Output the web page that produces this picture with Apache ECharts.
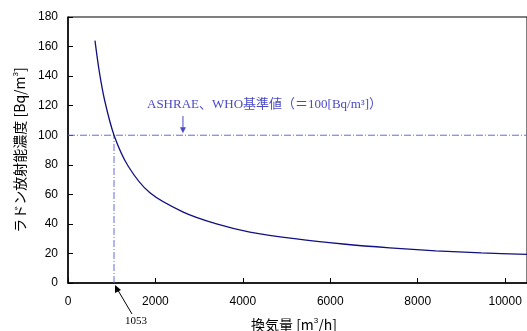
<!DOCTYPE html>
<html><head><meta charset="utf-8">
<script src="https://cdn.jsdelivr.net/npm/echarts@6/dist/echarts.min.js"></script>
<style>html,body{margin:0;padding:0;background:#fff}#c{width:527px;height:331px}</style>
</head><body><div id="c"></div>
<script>
const ventilation = [617, 716, 839, 1053, 1378, 1874, 2636, 3398, 4160, 5227, 6293, 7360, 8411, 9456, 10500];
const radon = [164, 143, 123.5, 100, 79, 61, 48, 40, 34.5, 29.8, 26.4, 23.8, 21.8, 20.4, 19.4];
const xTicks = [0, 2000, 4000, 6000, 8000, 10000];
const standardValue = 100;
const crossX = 1053;
const stdLabel = 'ASHRAE、WHO基準値（＝100[Bq/m³]）';

const chart = echarts.init(document.getElementById('c'));
const curve = ventilation.map((v, i) => [v, radon[i]]);
chart.setOption({
  animation: false,
  grid: { left: 68, top: 17, bottom: 48, right: 0, show: true, borderColor: '#000', borderWidth: 1 },
  xAxis: {
    type: 'value', min: 0, max: 10500, interval: 2000,
    axisLine: { lineStyle: { color: '#000', width: 1.5 } },
    axisTick: { inside: true, length: 5, lineStyle: { color: '#000' } },
    splitLine: { show: false },
    axisLabel: { color: '#000', fontFamily: 'Liberation Sans', fontSize: 12, margin: 13, showMaxLabel: false,
      formatter: v => xTicks.includes(v) ? String(v) : '' }
  },
  yAxis: {
    type: 'value', min: 0, max: 180, interval: 20,
    axisLine: { show: true, lineStyle: { color: '#000', width: 1.5 } },
    axisTick: { show: true, inside: true, length: 5, lineStyle: { color: '#000' } },
    splitLine: { show: false },
    axisLabel: { color: '#000', fontFamily: 'Liberation Sans', fontSize: 12, margin: 10 },
    name: '{a|ラドン放射能濃度 [Bq/m}{s|3}{a|]}',
    nameLocation: 'middle', nameRotate: 90, nameGap: 34,
    nameTextStyle: { rich: {
      a: { fontFamily: 'Noto Sans CJK JP', fontSize: 14, color: '#000' },
      s: { fontFamily: 'Liberation Sans', fontSize: 8, color: '#000', verticalAlign: 'top', padding: [0,0,8,0] }
    } }
  },
  series: [
    { type: 'line', data: [[0, standardValue], [10500, standardValue]], symbol: 'none', silent: true,
      lineStyle: { color: '#6a6ad8', width: 1, type: [7, 2, 1, 2] } },
    { type: 'line', data: [[crossX, 0], [crossX, standardValue]], symbol: 'none', silent: true,
      lineStyle: { color: '#6a6ad8', width: 1, type: [7, 2, 1, 2] } },
    { type: 'line', data: curve, symbol: 'none', smooth: 0.3,
      lineStyle: { color: '#101080', width: 1.3 } }
  ]
});

const p0 = chart.convertToPixel({ gridIndex: 0 }, [crossX, 0]);
const pStd = chart.convertToPixel({ gridIndex: 0 }, [2630, standardValue]);
chart.setOption({
  graphic: [
    { type: 'text', x: 251, y: 317, style: { text: '{a|換気量 [m}{s|3}{a|/h]}', rich: {
        a: { fontFamily: 'Noto Sans CJK JP', fontSize: 14, fill: '#000' },
        s: { fontFamily: 'Liberation Sans', fontSize: 8, fill: '#000', verticalAlign: 'top', padding: [0,0,8,0] } } } },
    { type: 'text', x: 147, y: 98, style: { text: stdLabel, font: '13px "Liberation Serif", "Noto Sans CJK JP"', fill: '#4a4ac8' } },
    { type: 'line', shape: { x1: pStd[0], y1: 116, x2: pStd[0], y2: pStd[1] - 6 }, style: { stroke: '#4a4ac8', lineWidth: 1 } },
    { type: 'polygon', shape: { points: [[pStd[0] - 3, pStd[1] - 8], [pStd[0] + 3, pStd[1] - 8], [pStd[0], pStd[1] - 2]] }, style: { fill: '#4a4ac8' } },
    { type: 'line', shape: { x1: 132, y1: 314, x2: p0[0] + 2, y2: p0[1] + 4 }, style: { stroke: '#000', lineWidth: 1 } },
    { type: 'polygon', shape: { points: [[p0[0] + 1, p0[1] + 2], [p0[0] + 1, p0[1] + 10], [p0[0] + 7, p0[1] + 7]] }, style: { fill: '#000' } },
    { type: 'text', x: 125, y: 316, style: { text: String(crossX), font: '11px "Liberation Serif"', fill: '#000' } }
  ]
});
</script></body></html>
